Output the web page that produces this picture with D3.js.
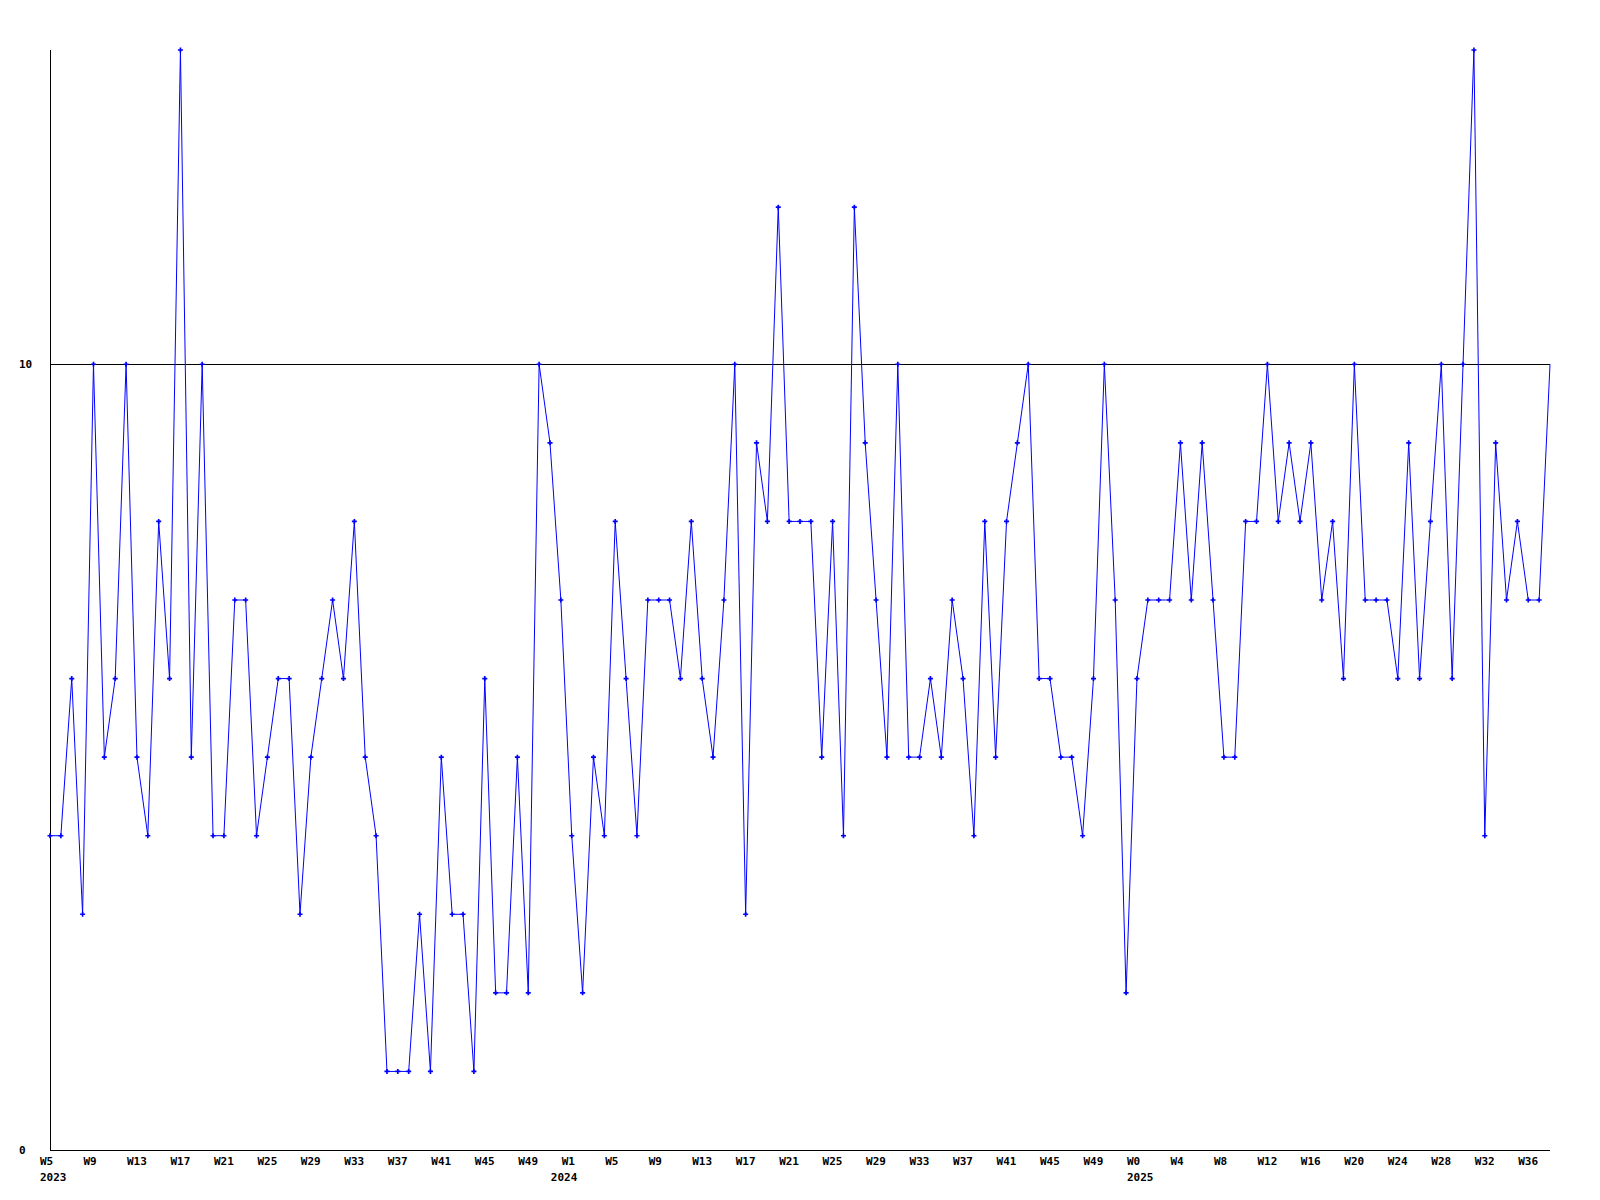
<html>
<head>
<title>Weekly count</title>
<script src="https://d3js.org/d3.v7.min.js"></script>
<style type="text/css">
    body { margin: 0; background: #ffffff; }
    text { font-family: "DejaVu Sans Mono", monospace; font-weight: bold; font-size: 11px; fill: #000000; }
</style>
</head>

<body>
    <div id="chart"></div>

    <script type="text/javascript">
        // one value per week, W5 2023 .. W37 2025
        var values2023 = [4, 4, 6, 3, 10, 5, 6, 10, 5, 4, 8, 6, 14, 5, 10, 4, 4, 7, 7, 4, 5, 6, 6, 3,
                          5, 6, 7, 6, 8, 5, 4, 1, 1, 1, 3, 1, 5, 3, 3, 1, 6, 2, 2, 5, 2, 10, 9, 7];
        var values2024 = [4, 2, 5, 4, 8, 6, 4, 7, 7, 7, 6, 8, 6, 5, 7, 10, 3, 9, 8, 12, 8, 8, 8, 5,
                          8, 4, 12, 9, 7, 5, 10, 5, 5, 6, 5, 7, 6, 4, 8, 5, 8, 9, 10, 6, 6, 5, 5, 4,
                          6, 10, 7, 2];
        var values2025 = [6, 7, 7, 7, 9, 7, 9, 7, 5, 5, 8, 8, 10, 8, 9, 8, 9, 7, 8, 6, 10, 7, 7, 7,
                          6, 9, 6, 8, 10, 6, 10, 14, 4, 9, 7, 8, 7, 7, 10];

        // x axis labels, one every 4 weeks
        var weekLabels = ["W5", "W9", "W13", "W17", "W21", "W25", "W29", "W33", "W37", "W41", "W45", "W49",
                          "W1", "W5", "W9", "W13", "W17", "W21", "W25", "W29", "W33", "W37", "W41", "W45", "W49",
                          "W0", "W4", "W8", "W12", "W16", "W20", "W24", "W28", "W32", "W36"];
        var yearLabels = ["2023", "2024", "2025"];
        // week index where each year begins
        var yearStart = [0, 47, 100];

        var yTicks = [0, 10];
        var yMax = 14;

        var data = values2023.concat(values2024, values2025).map(function(v, i) {
            return {i: i, v: v};
        });

        var margin = {top: 50, right: 50, bottom: 50, left: 50};
        var width = 1600 - margin.left - margin.right;
        var height = 1200 - margin.top - margin.bottom;

        var x = d3.scaleLinear().domain([0, data.length - 1]).range([0, width]);
        var y = d3.scaleLinear().domain([0, yMax]).range([height, 0]);

        var svg = d3.select("#chart").append("svg")
            .attr("width", 1600)
            .attr("height", 1200)
            .append("g")
            .attr("transform", "translate(" + margin.left + "," + margin.top + ")");

        // reference line at 10
        svg.selectAll(".grid")
            .data(yTicks.filter(function(d) { return d > 0; }))
            .enter()
            .append("line")
            .attr("x1", 0)
            .attr("x2", width)
            .attr("y1", function(d) { return Math.round(y(d)) + 0.5; })
            .attr("y2", function(d) { return Math.round(y(d)) + 0.5; })
            .attr("stroke", "#000")
            .attr("shape-rendering", "crispEdges");

        // axes
        svg.append("line")
            .attr("x1", 0.5).attr("x2", 0.5)
            .attr("y1", 0).attr("y2", height)
            .attr("stroke", "#000")
            .attr("shape-rendering", "crispEdges");
        svg.append("line")
            .attr("x1", 0).attr("x2", width)
            .attr("y1", height + 0.5).attr("y2", height + 0.5)
            .attr("stroke", "#000")
            .attr("shape-rendering", "crispEdges");

        // y labels
        svg.selectAll(".ylabel")
            .data(yTicks)
            .enter()
            .append("text")
            .attr("x", -31)
            .attr("y", function(d) { return y(d) + 4; })
            .text(function(d) { return d; });

        // week labels
        svg.selectAll(".wlabel")
            .data(weekLabels)
            .enter()
            .append("text")
            .attr("x", function(d, i) { return x(i * 4) - 10; })
            .attr("y", height + 15)
            .text(function(d) { return d; });

        svg.selectAll(".ylab")
            .data(yearLabels)
            .enter()
            .append("text")
            .attr("x", function(d, i) { return x(yearStart[i]) - 10; })
            .attr("y", height + 31)
            .text(function(d) { return d; });

        // the line
        var line = d3.line()
            .x(function(d) { return x(d.i); })
            .y(function(d) { return y(d.v); });

        svg.append("path")
            .datum(data)
            .attr("fill", "none")
            .attr("stroke", "#0000ff")
            .attr("stroke-width", 1)
            .attr("d", line);

        // point markers (last one has none)
        svg.selectAll(".dot")
            .data(data.slice(0, data.length - 1))
            .enter()
            .append("path")
            .attr("d", d3.symbol().type(d3.symbolCross).size(14))
            .attr("transform", function(d) { return "translate(" + x(d.i) + "," + y(d.v) + ")"; })
            .attr("fill", "#0000ff");
    </script>
</body>
</html>
